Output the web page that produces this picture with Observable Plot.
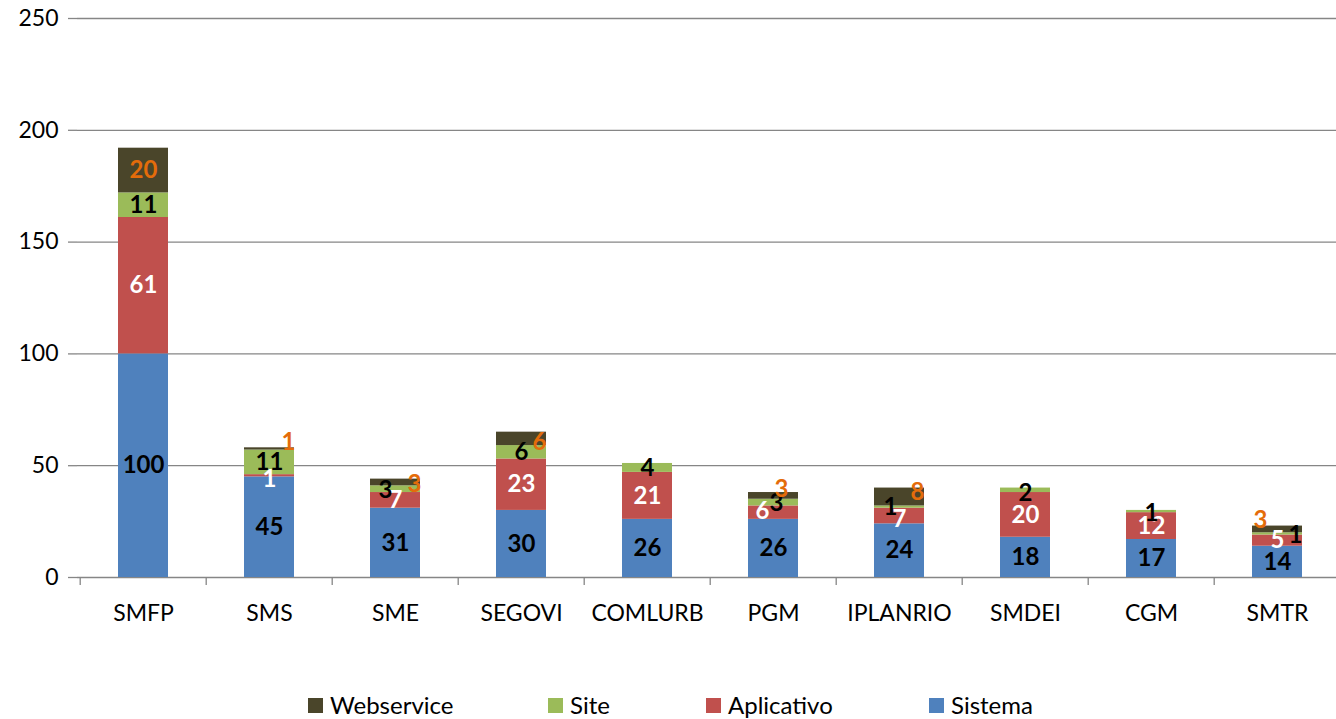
<!DOCTYPE html>
<html>
<head>
<meta charset="utf-8">
<script src="https://cdn.jsdelivr.net/npm/d3@7"></script>
<script src="https://cdn.jsdelivr.net/npm/@observablehq/plot@0.6"></script>
<style>
  html, body { margin: 0; padding: 0; background: #fff; }
  body { width: 1336px; height: 719px; overflow: hidden; font-family: Lato, "Open Sans", sans-serif; position: relative; }
  #legend { position: absolute; top: 690px; left: 0; width: 1336px; height: 30px; }
  .item { position: absolute; display: flex; align-items: center; font-size: 24px; color: #000; line-height: 30px; }
  .sw { width: 15px; height: 15px; margin-right: 7px; }
</style>
</head>
<body>
<div id="chart"></div>
<div id="legend"></div>
<script>
const categories = ["SMFP", "SMS", "SME", "SEGOVI", "COMLURB", "PGM", "IPLANRIO", "SMDEI", "CGM", "SMTR"];
const seriesNames = ["Sistema", "Aplicativo", "Site", "Webservice"];
const sistema    = [100, 45, 31, 30, 26, 26, 24, 18, 17, 14];
const aplicativo = [61, 1, 7, 23, 21, 6, 7, 20, 12, 5];
const site       = [11, 11, 3, 6, 4, 3, 1, 2, 1, 1];
const webservice = [20, 1, 3, 6, 0, 3, 8, 0, 0, 3];
const yTicks = [0, 50, 100, 150, 200, 250];

const colors = { Sistema: "#4F81BD", Aplicativo: "#C0504D", Site: "#9BBB59", Webservice: "#4A452A" };
const labelColors = { Sistema: "#000000", Aplicativo: "#FFFFFF", Site: "#000000", Webservice: "#E46C0A" };

const valuesBySeries = { Sistema: sistema, Aplicativo: aplicativo, Site: site, Webservice: webservice };
const data = [];
seriesNames.forEach((s, si) => {
  categories.forEach((c, i) => {
    data.push({ cat: c, series: s, order: si, value: valuesBySeries[s][i] });
  });
});

// manual label nudges (pixels), as in the reference where small labels were moved aside
const nudges = {
  "SMS|Aplicativo": [0, 4], "SMS|Webservice": [19, -7],
  "SME|Site": [-10, 1], "SME|Webservice": [19, 2],
  "SEGOVI|Webservice": [18, 3],
  "PGM|Aplicativo": [-11, -1], "PGM|Site": [3, 1], "PGM|Webservice": [8, -7],
  "IPLANRIO|Site": [-9, 0], "IPLANRIO|Aplicativo": [0, 3], "IPLANRIO|Webservice": [18, -5],
  "SMDEI|Site": [0, 3], "CGM|Site": [0, 2],
  "SMTR|Webservice": [-17, -9], "SMTR|Site": [18, 1]
};
const nd = d => nudges[d.cat + "|" + d.series] || [0, 0];

const step = (1343 - 77) / 10;
const labelData = data.filter(d => d.value > 0);

const labelMarks = labelData.map(d => Plot.text([d], Plot.stackY({
  x: "cat", y: "value", z: "series", order: "order",
  text: d => String(d.value),
  fill: labelColors[d.series],
  fontWeight: "bold", fontSize: 24,
  dx: nd(d)[0], dy: nd(d)[1]
})));

// stacked positions need the whole column, so compute label y from full stack
const stackTotals = {};
const labelRows = labelData.map(d => d);

const chart = Plot.plot({
  width: 1336,
  height: 640,
  marginTop: 18,
  marginBottom: 63,
  marginLeft: 77,
  marginRight: 0,
  style: { fontFamily: "Lato, 'Open Sans', sans-serif", background: "#fff", overflow: "visible" },
  x: { domain: categories, range: [77, 1343], paddingInner: 0.6, paddingOuter: 0.3, label: null },
  y: { domain: [0, 250], label: null },
  color: { domain: seriesNames, range: seriesNames.map(s => colors[s]) },
  marks: [
    Plot.ruleY(yTicks, { stroke: "#868686", strokeWidth: 1.3 }),
    Plot.barY(data, Plot.stackY({ x: "cat", y: "value", fill: "series", order: "order", z: "series" })),
    ...seriesNames.flatMap(s => ["a"].map(() => null)).filter(Boolean),
    Plot.text(data, Plot.stackY({
      x: "cat", y: "value", z: "series", order: "order",
      text: d => d.value > 0 ? String(d.value) : "",
      fill: d => labelColors[d.series],
      fontWeight: "bold", fontSize: 24,
      render(index, scales, values, dims, context, next) {
        const g = next(index, scales, values, dims, context);
        const texts = g.querySelectorAll("text");
        texts.forEach((t, k) => {
          const d = data[index[k]];
          const [dx, dy] = nd(d);
          const tr = t.getAttribute("transform") || "";
          t.setAttribute("transform", tr + ` translate(${dx},${dy})`);
        });
        return g;
      }
    })),
    Plot.ruleX([77], { y1: 0, y2: 250, stroke: "#868686", strokeWidth: 1.3 }),
    Plot.ruleX(categories, { x: d => d, dx: -step / 2, y1: 0, y2: -3.6, stroke: "#868686", strokeWidth: 1.3 }),
    Plot.axisY(yTicks, { tickSize: 9, tickPadding: 10, fontSize: 23, stroke: "#868686", color: "#000", strokeWidth: 1.3 }),
    Plot.axisX({ tickSize: 0, tickPadding: 27, fontSize: 23, color: "#000" })
  ]
});
document.getElementById("chart").appendChild(chart);

const legendItems = [
  { name: "Webservice", left: 308 },
  { name: "Site", left: 548 },
  { name: "Aplicativo", left: 706 },
  { name: "Sistema", left: 929 }
];
const legend = document.getElementById("legend");
legendItems.forEach(it => {
  const el = document.createElement("div");
  el.className = "item";
  el.style.left = it.left + "px";
  el.style.top = "0px";
  el.innerHTML = `<span class="sw" style="background:${colors[it.name]}"></span><span>${it.name}</span>`;
  legend.appendChild(el);
});
</script>
</body>
</html>
